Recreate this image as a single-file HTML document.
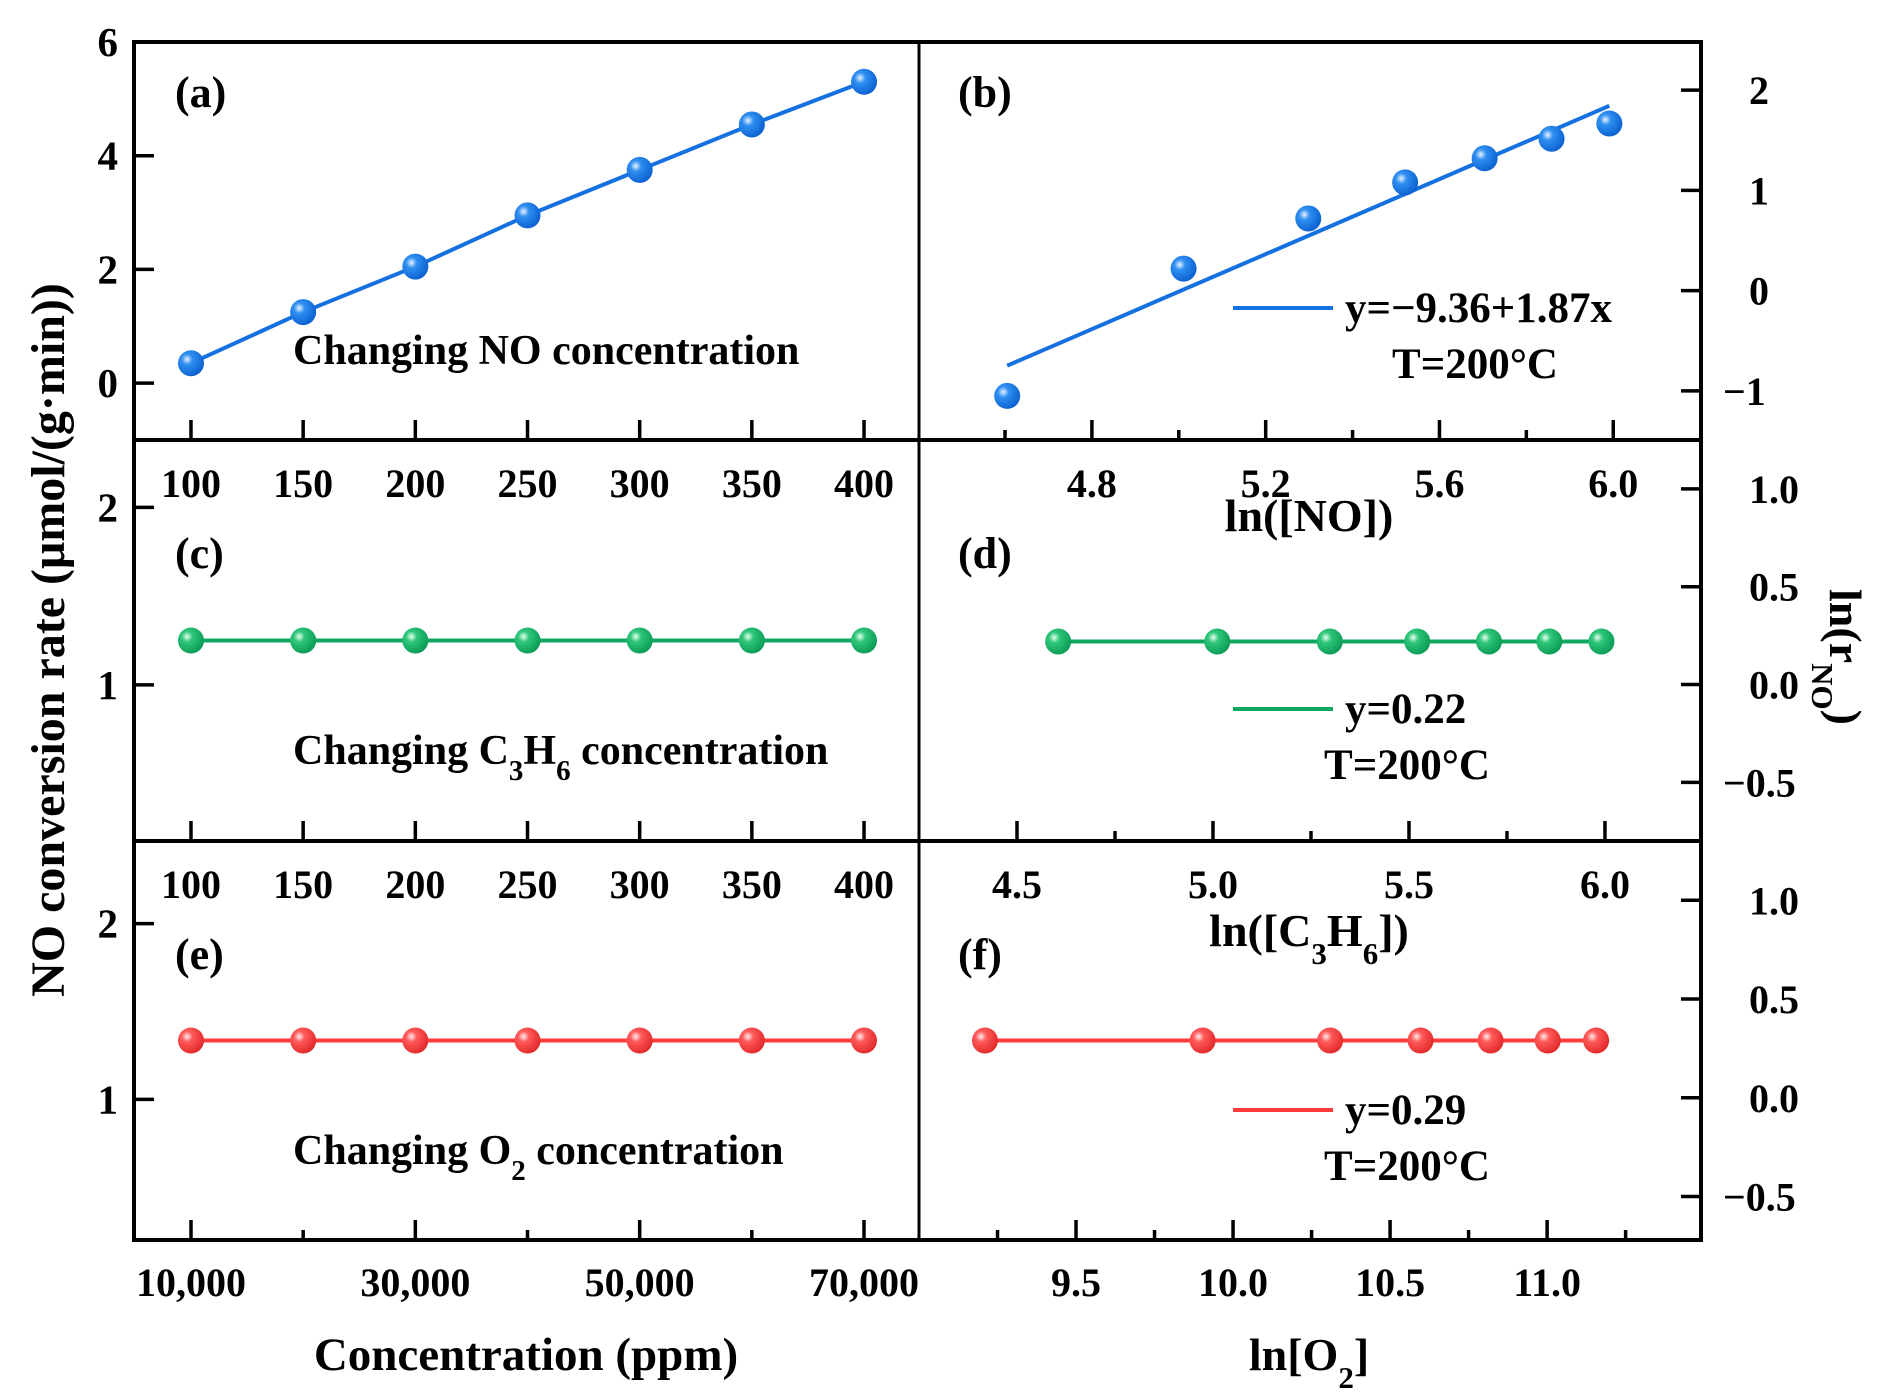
<!DOCTYPE html>
<html><head><meta charset="utf-8"><style>
html,body{margin:0;padding:0;background:#fff}
svg{display:block}
text{font-family:"Liberation Serif","Times New Roman",serif;font-weight:bold;fill:#000}
</style></head><body>
<svg id="chart" width="1892" height="1398" viewBox="0 0 1892 1398" xmlns="http://www.w3.org/2000/svg">
<defs>
<radialGradient id="gBlue" cx="0.35" cy="0.35" r="0.7"><stop offset="0" stop-color="#e8f2ff"/><stop offset="0.3" stop-color="#2f8ff0"/><stop offset="1" stop-color="#0a5fd0"/></radialGradient>
<radialGradient id="gGreen" cx="0.35" cy="0.35" r="0.7"><stop offset="0" stop-color="#e6fff0"/><stop offset="0.3" stop-color="#2fc67a"/><stop offset="1" stop-color="#0a9a55"/></radialGradient>
<radialGradient id="gRed" cx="0.35" cy="0.35" r="0.7"><stop offset="0" stop-color="#ffecec"/><stop offset="0.3" stop-color="#ff5a5a"/><stop offset="1" stop-color="#e02828"/></radialGradient>
</defs>
<g id="layer"></g>
</svg>
<script>
// ---- data ----
const concNO = [100,150,200,250,300,350,400];
const rateNO = [0.35,1.25,2.05,2.95,3.75,4.55,5.3];
const rateC3H6 = [1.25,1.25,1.25,1.25,1.25,1.25,1.25];
const concO2 = [10000,20000,30000,40000,50000,60000,70000];
const rateO2 = [1.335,1.335,1.335,1.335,1.335,1.335,1.335];
const lnNO = [4.605,5.011,5.298,5.521,5.704,5.858,5.991];
const lnRateNO = [-1.05,0.22,0.72,1.08,1.32,1.515,1.667];
const lnC3H6 = [4.605,5.011,5.298,5.521,5.704,5.858,5.991];
const lnRateC3H6 = [0.22,0.22,0.22,0.22,0.22,0.22,0.22];
const lnO2 = [9.210,9.903,10.309,10.597,10.820,11.002,11.156];
const lnRateO2 = [0.29,0.29,0.29,0.29,0.29,0.29,0.29];
const fitNO = [-9.36,1.87];
const ticksConcNO = [100,150,200,250,300,350,400];
const ticksConcO2Major = [10000,30000,50000,70000];
const ticksConcO2Minor = [20000,40000,60000];
const ticksYa = [0,2,4,6];
const ticksYc = [1,2];
const ticksYb = [-1,0,1,2];
const ticksYd = [-0.5,0,0.5,1.0];
const ticksXb = [4.8,5.2,5.6,6.0];
const ticksXbMinor = [4.6,5.0,5.4,5.8];
const ticksXd = [4.5,5.0,5.5,6.0];
const ticksXdMinor = [4.75,5.25,5.75];
const ticksXf = [9.5,10.0,10.5,11.0];
const ticksXfMinor = [9.25,9.75,10.25,10.75,11.25];

const NS="http://www.w3.org/2000/svg";
const layer=document.getElementById('layer');
function el(tag,attrs,parent){const e=document.createElementNS(NS,tag);for(const k in attrs)e.setAttribute(k,attrs[k]);(parent||layer).appendChild(e);return e;}
function lin(d0,d1,r0,r1){return v=>r0+(v-d0)/(d1-d0)*(r1-r0);}

const L=134,M=919,R=1701,T=42,D1=440,D2=841,B=1240;
const xConc=lin(74.6,424.5,L,M);
const xO2=lin(4918,74903,L,M);
const yA=lin(-1,6,D1,T);
const yC=lin(0.12,2.38,D2,D1);
const yE=lin(0.2,2.47,B,D2);
const xB=lin(4.402,6.202,M,R);
const yB=lin(-1.49,2.48,D1,T);
const xD=lin(4.25,6.245,M,R);
const yD=lin(-0.8,1.25,D2,D1);
const xF=lin(9.0,11.49,M,R);
const yF=lin(-0.72,1.30,B,D2);

function fmt(v){return v.toLocaleString('en-US');}

const frame=el('g',{});


el('rect',{x:L,y:T,width:R-L,height:B-T,fill:'none',stroke:'#000','stroke-width':4},frame);
el('line',{x1:M,y1:T,x2:M,y2:B,stroke:'#000','stroke-width':3},frame);
el('line',{x1:L,y1:D1,x2:R,y2:D1,stroke:'#000','stroke-width':4},frame);
el('line',{x1:L,y1:D2,x2:R,y2:D2,stroke:'#000','stroke-width':4},frame);

function vtickBottom(g,x,yb,len){el('line',{x1:x,y1:yb,x2:x,y2:yb-len,stroke:'#000','stroke-width':3.5},g);}
function xAxis(name,ticks,minor,sx,yb,labY,fmtf){
  const g=el('g',{});
  
  
  ticks.forEach(v=>{vtickBottom(g,sx(v),yb,20);
    const t=el('text',{x:sx(v),y:labY,'text-anchor':'middle','font-size':40},g);t.textContent=fmtf?fmtf(v):v;});
  (minor||[]).forEach(v=>vtickBottom(g,sx(v),yb,10));
}
function yAxisLeft(name,ticks,sy){
  const g=el('g',{});
  
  
  ticks.forEach(v=>{el('line',{x1:L,y1:sy(v),x2:L+20,y2:sy(v),stroke:'#000','stroke-width':3.5},g);
    const t=el('text',{x:L-16,y:sy(v)+14,'text-anchor':'end','font-size':41},g);t.textContent=v;});
}
function yAxisRight(name,ticks,sy,dec){
  const g=el('g',{});
  
  
  ticks.forEach(v=>{el('line',{x1:R,y1:sy(v),x2:R-20,y2:sy(v),stroke:'#000','stroke-width':3.5},g);
    const s=(v<0?'\u2212':'')+(dec?Math.abs(v).toFixed(1):Math.abs(v));
    const t=el('text',{x:(v<0?R+22:R+48),y:sy(v)+14,'text-anchor':'start','font-size':40},g);t.textContent=s;});
}
xAxis('x-axis-a',ticksConcNO,null,xConc,D1,497);
xAxis('x-axis-c',ticksConcNO,null,xConc,D2,898);
xAxis('x-axis-e',ticksConcO2Major,ticksConcO2Minor,xO2,B,1296,fmt);
xAxis('x-axis-b',ticksXb,ticksXbMinor,xB,D1,497,v=>v.toFixed(1));
xAxis('x-axis-d',ticksXd,ticksXdMinor,xD,D2,898,v=>v.toFixed(1));
xAxis('x-axis-f',ticksXf,ticksXfMinor,xF,B,1296,v=>v.toFixed(1));
yAxisLeft('y-axis-a',ticksYa,yA);
yAxisLeft('y-axis-c',ticksYc,yC);
yAxisLeft('y-axis-e',ticksYc,yE);
yAxisRight('y-axis-b',ticksYb,yB,false);
yAxisRight('y-axis-d',ticksYd,yD,true);
yAxisRight('y-axis-f',ticksYd,yF,true);

function series(name,xs,ys,sx,sy,color,grad,drawLine){
  const g=el('g',{});
  
  
  if(drawLine){el('polyline',{points:xs.map((x,i)=>sx(x)+','+sy(ys[i])).join(' '),fill:'none',stroke:color,'stroke-width':4},g);}
  xs.forEach((x,i)=>{const c=el('circle',{cx:sx(x),cy:sy(ys[i]),r:13,fill:'url(#'+grad+')'},g);
    
    });
}
series('series-no',concNO,rateNO,xConc,yA,'#1570e0','gBlue',true);
series('series-c3h6',concNO,rateC3H6,xConc,yC,'#10a860','gGreen',true);
series('series-o2',concO2,rateO2,xO2,yE,'#ff3b3b','gRed',true);
const fit=el('line',{x1:xB(lnNO[0]),y1:yB(fitNO[0]+fitNO[1]*lnNO[0]),x2:xB(lnNO[6]),y2:yB(fitNO[0]+fitNO[1]*lnNO[6]),stroke:'#1570e0','stroke-width':4});


series('series-ln-no',lnNO,lnRateNO,xB,yB,'#1570e0','gBlue',false);
series('series-ln-c3h6',lnC3H6,lnRateC3H6,xD,yD,'#10a860','gGreen',true);
series('series-ln-o2',lnO2,lnRateO2,xF,yF,'#ff3b3b','gRed',true);

function legend(name,y,color,eq,tx){
  const g=el('g',{});
  
  
  el('line',{x1:1233,y1:y,x2:1333,y2:y,stroke:color,'stroke-width':4},g);
  const t=el('text',{x:1345,y:y+14,'font-size':43},g);t.textContent=eq;
  const t2=el('text',{x:tx,y:y+70,'text-anchor':'middle','font-size':43},g);t2.textContent='T=200\u00B0C';
}
legend('legend-b',308,'#1570e0','y=\u22129.36+1.87x',1475);
legend('legend-d',709,'#10a860','y=0.22',1407);
legend('legend-f',1110,'#ff3b3b','y=0.29',1407);

function txt(name,x,y,size,html,extra){
  const t=document.createElementNS(NS,'text');
  t.setAttribute('x',x);t.setAttribute('y',y);t.setAttribute('font-size',size);
  if(extra)for(const k in extra)t.setAttribute(k,extra[k]);
  t.innerHTML=html;
  
  
  layer.appendChild(t);return t;
}
txt('panel-label-a',175,107,44,'(a)');
txt('panel-label-b',958,107,44,'(b)');
txt('panel-label-c',175,568,44,'(c)');
txt('panel-label-d',958,568,44,'(d)');
txt('panel-label-e',175,969,44,'(e)');
txt('panel-label-f',958,969,44,'(f)');
txt('annotation-no',293,364,42,'Changing NO concentration');
txt('annotation-c3h6',293,764,42,'Changing C<tspan baseline-shift="sub" font-size="29">3</tspan>H<tspan baseline-shift="sub" font-size="29">6</tspan> concentration');
txt('annotation-o2',293,1164,42,'Changing O<tspan baseline-shift="sub" font-size="29">2</tspan> concentration');
txt('x-title-b',1309,531,46,'ln([NO])',{'text-anchor':'middle'});
txt('x-title-d',1309,946,46,'ln([C<tspan baseline-shift="sub" font-size="31">3</tspan>H<tspan baseline-shift="sub" font-size="31">6</tspan>])',{'text-anchor':'middle'});
txt('x-title-f',1309,1370,46,'ln[O<tspan baseline-shift="sub" font-size="31">2</tspan>]',{'text-anchor':'middle'});
txt('x-title-e',526,1370,47,'Concentration (ppm)',{'text-anchor':'middle'});
txt('y-title-left',0,0,48,'NO conversion rate (\u03BCmol/(g\u00B7min))',{'text-anchor':'middle',transform:'translate(64,640) rotate(-90)'});
txt('y-title-right',0,0,46,'ln(r<tspan baseline-shift="sub" font-size="31">NO</tspan>)',{'text-anchor':'middle',transform:'translate(1830,657) rotate(90)'});
</script>
</body></html>
